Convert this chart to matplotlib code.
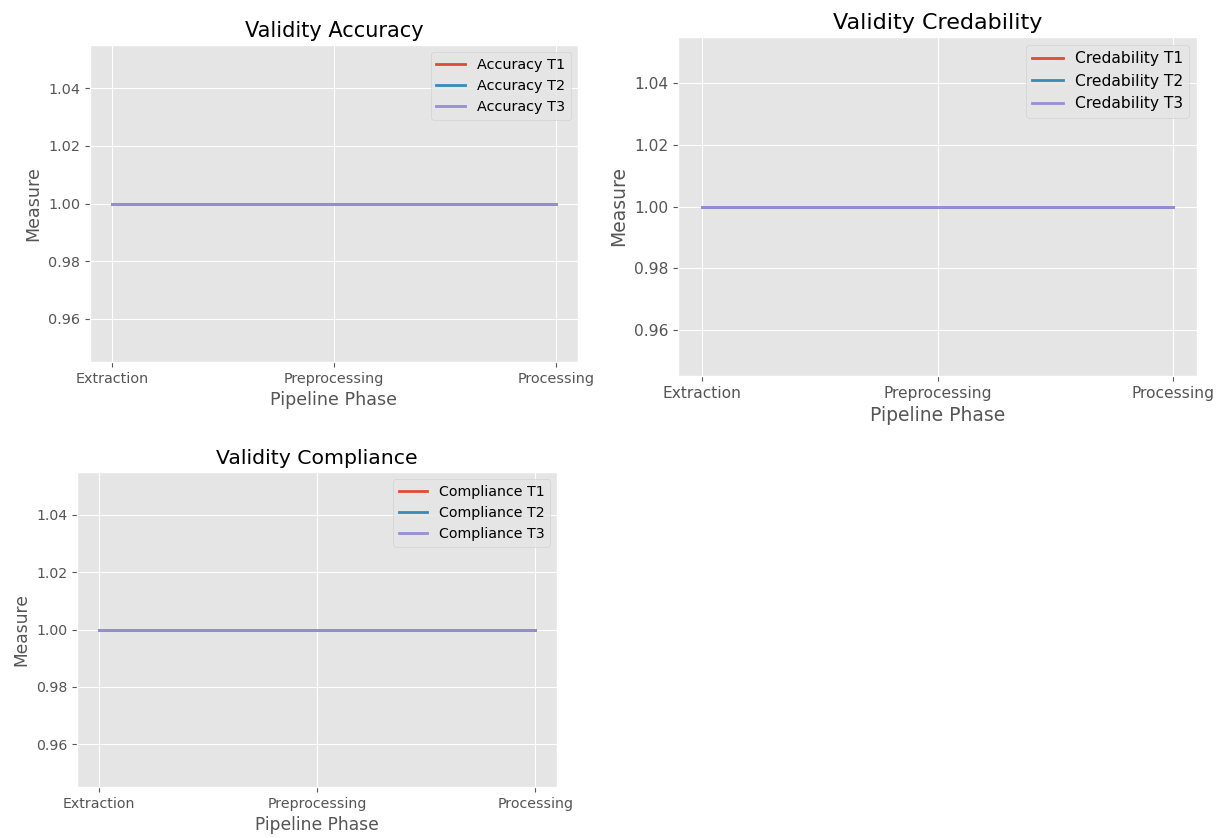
import matplotlib
matplotlib.use("Agg")
import matplotlib.pyplot as plt

plt.style.use("ggplot")

phases = ["Extraction", "Preprocessing", "Processing"]

accuracy_t1 = [1.0, 1.0, 1.0]
accuracy_t2 = [1.0, 1.0, 1.0]
accuracy_t3 = [1.0, 1.0, 1.0]

credability_t1 = [1.0, 1.0, 1.0]
credability_t2 = [1.0, 1.0, 1.0]
credability_t3 = [1.0, 1.0, 1.0]

compliance_t1 = [1.0, 1.0, 1.0]
compliance_t2 = [1.0, 1.0, 1.0]
compliance_t3 = [1.0, 1.0, 1.0]

W, H = 1221, 838
fig = plt.figure(figsize=(W / 100, H / 100), dpi=100)
fig.patch.set_facecolor("white")


def panel(box, name, series, scale):
    left, top, right, bottom = box
    ax = fig.add_axes([left / W, 1 - bottom / H, (right - left) / W, (bottom - top) / H])
    for i, vals in enumerate(series):
        ax.plot(phases, vals, label="{} T{}".format(name, i + 1), linewidth=2)
    ax.set_title("Validity " + name, fontsize=15 * scale)
    ax.set_xlabel("Pipeline Phase", fontsize=12.6 * scale)
    ax.set_ylabel("Measure", fontsize=12.6 * scale)
    ax.tick_params(labelsize=10.4 * scale)
    ax.legend(loc="upper right", fontsize=10.4 * scale)
    return ax


panel((90, 45, 578, 362), "Accuracy", [accuracy_t1, accuracy_t2, accuracy_t3], 1.0)
panel((678, 37, 1197, 376), "Credability", [credability_t1, credability_t2, credability_t3], 1.07)
panel((77, 472, 557, 787), "Compliance", [compliance_t1, compliance_t2, compliance_t3], 0.98)

fig.savefig("out.png", dpi=100)
